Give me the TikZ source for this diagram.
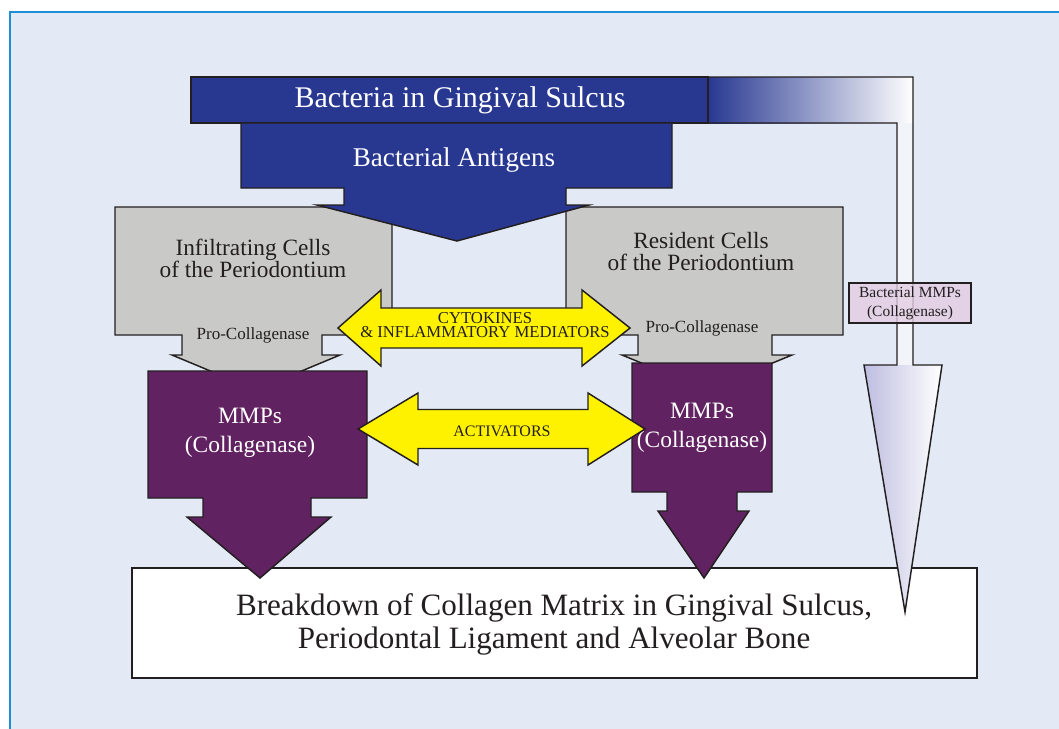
\documentclass[tikz,border=0pt]{standalone}
\usepackage{fontspec}
\setmainfont{Liberation Serif}
\definecolor{panelbg}{HTML}{E3EAF5}
\definecolor{panelrim}{HTML}{1E8FD5}
\definecolor{sulcusblue}{HTML}{283891}
\definecolor{cellgray}{HTML}{C9C9C7}
\definecolor{mmppurple}{HTML}{612261}
\definecolor{signalyellow}{HTML}{FFF200}
\definecolor{labelpink}{HTML}{E3CDE3}
\definecolor{edgeink}{HTML}{231F20}
\definecolor{lavender}{HTML}{BDBDE0}
\definecolor{shaftwhite}{HTML}{F3F3FA}
\begin{document}
\begin{tikzpicture}[x=0.75pt,y=-0.75pt,
    outline/.style={draw=edgeink,line width=1.1pt,line join=miter},
    whitetext/.style={text=white,align=center,inner sep=0pt},
    inktext/.style={text=edgeink,align=center,inner sep=0pt}]
    \useasboundingbox (0,0) rectangle (1059,728);

    % Background panel
    \fill[panelbg] (10,12) rectangle (1070,740);
    \draw[panelrim,line width=1.2pt] (10,740) -- (10,12) -- (1070,12);

    % Bottom box
    \filldraw[outline,fill=white] (132,568) rectangle (977,678);
    \node[inktext,font=\fontsize{23.3}{24.75}\selectfont] (breakdown) at (554,624)
        {Breakdown of Collagen Matrix in Gingival Sulcus,\\Periodontal Ligament and Alveolar Bone};

    % Bent arrow of the bacterial MMPs
    \shade[left color=sulcusblue,right color=white] (708,77) rectangle (913,123);
    \fill[shaftwhite] (897,123) rectangle (913,366);
    \shade[left color=lavender,right color=white] (864,365) -- (942,365) -- (905,612) -- cycle;
    \draw[outline] (708,77) -- (913,77) -- (913,365) -- (942,365) -- (905,612) -- (864,365)
        -- (897,365) -- (897,123) -- (708,123) -- cycle;

    % Top bar
    \filldraw[outline,fill=sulcusblue] (191,77) rectangle (708,123);
    \node[whitetext,font=\fontsize{22.5}{24}\selectfont] (bacteria) at (460,100) {Bacteria in Gingival Sulcus};

    % Cells of the periodontium
    \filldraw[outline,fill=cellgray] (115,207) -- (392,207) -- (392,335) -- (322,335) -- (322,355) -- (340,355)
        -- (256,390) -- (172,355) -- (182,355) -- (182,335) -- (115,335) -- cycle;
    \filldraw[outline,fill=cellgray] (566,207) -- (843,207) -- (843,335) -- (772,335) -- (772,355) -- (792,355)
        -- (707,390) -- (622,355) -- (638,355) -- (638,335) -- (566,335) -- cycle;
    \node[inktext,font=\fontsize{17.5}{16.5}\selectfont] (infil) at (253,258) {Infiltrating Cells\\of the Periodontium};
    \node[inktext,font=\fontsize{17.5}{16.5}\selectfont] (resident) at (701,252) {Resident Cells\\of the Periodontium};
    \node[inktext,font=\fontsize{12.8}{14}\selectfont] (procolL) at (253,335) {Pro-Collagenase};
    \node[inktext,font=\fontsize{12.8}{14}\selectfont] (procolR) at (702,328) {Pro-Collagenase};

    % Antigen arrow
    \filldraw[outline,fill=sulcusblue] (241,123) -- (672,123) -- (672,188) -- (566,188) -- (566,205) -- (589,205)
        -- (457,241) -- (317,205) -- (344,205) -- (344,188) -- (241,188) -- cycle;
    \node[whitetext,font=\fontsize{20.3}{22}\selectfont] (antigens) at (454,160) {Bacterial Antigens};

    % MMP boxes
    \filldraw[outline,fill=mmppurple] (148,371) -- (367,371) -- (367,498) -- (311,498) -- (311,517) -- (331,517)
        -- (260,578) -- (187,517) -- (203,517) -- (203,498) -- (148,498) -- cycle;
    \filldraw[outline,fill=mmppurple] (632,363) -- (772,363) -- (772,492) -- (737,492) -- (737,511) -- (749,511)
        -- (704,578) -- (658,511) -- (667,511) -- (667,492) -- (632,492) -- cycle;
    \node[whitetext,font=\fontsize{17.6}{21.4}\selectfont] (mmpL) at (250,433) {MMPs\\(Collagenase)};
    \node[whitetext,font=\fontsize{17.6}{21.4}\selectfont] (mmpR) at (702,428) {MMPs\\(Collagenase)};

    % Yellow double arrows
    \filldraw[outline,fill=signalyellow] (338,328) -- (381,290) -- (381,308) -- (582,308) -- (582,290) -- (630,328)
        -- (582,366) -- (582,348) -- (381,348) -- (381,366) -- cycle;
    \filldraw[outline,fill=signalyellow] (358,429) -- (418,393) -- (418,409.5) -- (588,409.5) -- (588,393) -- (645,429)
        -- (588,465) -- (588,448.5) -- (418,448.5) -- (418,465) -- cycle;
    \node[inktext,font=\fontsize{12.5}{11}\selectfont] (cyto) at (485,325) {CYTOKINES\\\& INFLAMMATORY MEDIATORS};
    \node[inktext,font=\fontsize{12}{14}\selectfont] (activ) at (502,431) {ACTIVATORS};

    % Label on the bent arrow
    \node[draw=edgeink,line width=1.1pt,fill=labelpink,fill opacity=0.8,text opacity=1,inktext,
        minimum width=91.5pt,minimum height=30pt,font=\fontsize{11.6}{14}\selectfont] (bmmp) at (910,303)
        {Bacterial MMPs\\(Collagenase)};
\end{tikzpicture}
\end{document}
